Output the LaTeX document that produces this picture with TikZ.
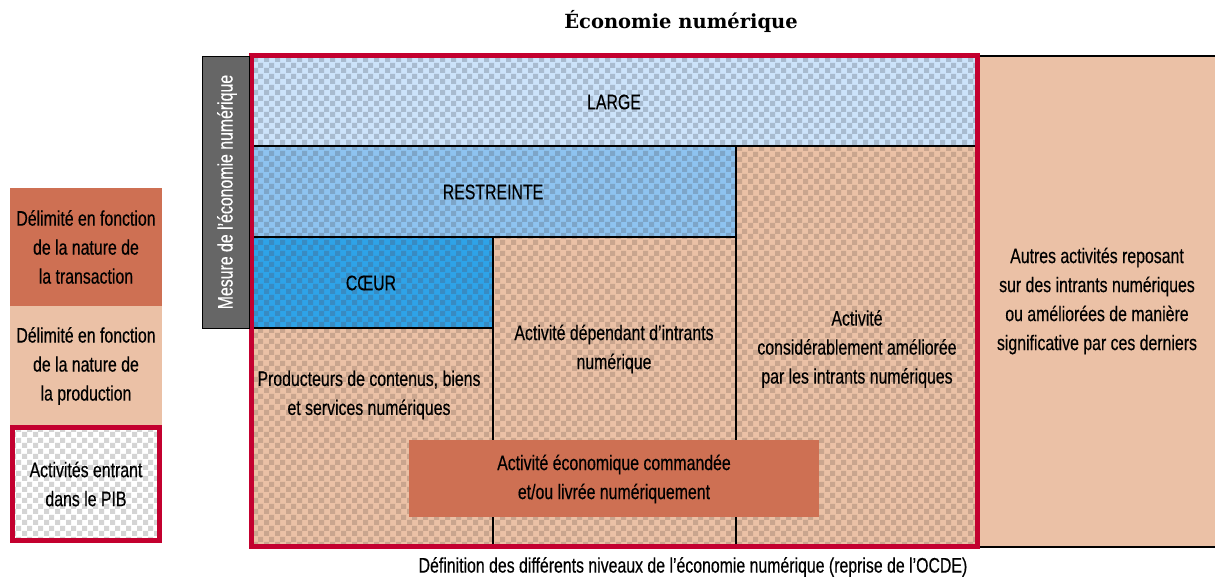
\documentclass[tikz,border=0pt]{standalone}
\usepackage{fontspec}
\setmainfont[FakeStretch=0.755,FakeBold=0.4]{Liberation Sans}
\newfontfamily\titlefont{DejaVu Serif}
\usetikzlibrary{patterns}
\pgfdeclarepatternformonly{chk}{\pgfqpoint{0pt}{0pt}}{\pgfqpoint{11pt}{11pt}}{\pgfqpoint{11pt}{11pt}}{%
  \pgfpathrectangle{\pgfqpoint{0pt}{0pt}}{\pgfqpoint{5.5pt}{5.5pt}}%
  \pgfpathrectangle{\pgfqpoint{5.5pt}{5.5pt}}{\pgfqpoint{5.5pt}{5.5pt}}%
  \pgfusepath{fill}}
\definecolor{redframe}{HTML}{C3002F}
\definecolor{beige}{HTML}{EBC1A6}
\definecolor{beigedk}{HTML}{C9A58E}
\definecolor{largebg}{HTML}{CCE3FA}
\definecolor{largedk}{HTML}{A8BBCF}
\definecolor{restbg}{HTML}{8EC3F0}
\definecolor{restdk}{HTML}{7DA5C8}
\definecolor{coeurbg}{HTML}{2EA3E8}
\definecolor{coeurdk}{HTML}{388BC2}
\definecolor{orangebox}{HTML}{CE7053}
\definecolor{greybox}{HTML}{666666}
\definecolor{legbg}{HTML}{FFFFFF}
\definecolor{legdk}{HTML}{D4D4D4}
\tikzset{
  chk/.style 2 args={preaction={fill=#1}, pattern=chk, pattern color=#2},
  txt/.style={align=center, inner sep=0pt, font=\fontsize{21}{29}\selectfont, text=black},
  thin line/.style={draw=black, line width=1.2pt},
}
\begin{document}
\begin{tikzpicture}[x=1pt,y=-1pt]
\useasboundingbox (0,0) rectangle (1215,579);
% right box
\fill[beige] (977,56) rectangle (1215,547);
\draw[thin line] (977,56) -- (1215,56);
\draw[thin line] (977,547) -- (1215,547);
% large
\path[chk={largebg}{largedk}] (251,55.5) rectangle (977,146);
% beige checker
\path[chk={beige}{beigedk}] (251,146) rectangle (977,546);
% restreinte
\path[chk={restbg}{restdk}] (251,146) rectangle (736,237);
% coeur
\path[chk={coeurbg}{coeurdk}] (251,237) rectangle (493,328);
% black lines
\draw[thin line] (251,146) -- (977,146);
\draw[thin line] (251,237) -- (736,237);
\draw[thin line] (736,146) -- (736,546);
\draw[thin line] (493,237) -- (493,546);
\draw[thin line] (251,328) -- (493,328);
% orange box
\fill[orangebox] (409,440) rectangle (819,517);
% red frame
\draw[redframe, line width=5pt] (251,55.5) rectangle (977,546);
% grey box
\draw[fill=greybox, draw=black, line width=1pt] (202,56) rectangle (249,328);
\node[txt, text=white, rotate=90] (mesure) at (227,192) {Mesure de l’économie numérique};
% texts
\node[font=\titlefont\bfseries\fontsize{19.5}{22}\selectfont, inner sep=0pt] (title) at (681,21) {Économie numérique};
\node[txt] (large) at (614,102) {LARGE};
\node[txt] (restreinte) at (493,192) {RESTREINTE};
\node[txt] (coeur) at (371,283) {CŒUR};
\node[txt] (dependant) at (614,349) {Activité dépendant d’intrants\\numérique};
\node[txt] (ameliore) at (857,349) {Activité\\considérablement améliorée\\par les intrants numériques};
\node[txt] (producteurs) at (369,395) {Producteurs de contenus, biens\\et services numériques};
\node[txt] (commande) at (614,479) {Activité économique commandée\\et/ou livrée numériquement};
\node[txt] (autres) at (1097,301) {Autres activités reposant\\sur des intrants numériques\\ou améliorées de manière\\significative par ces derniers};
\node[txt] (caption) at (693,567) {Définition des différents niveaux de l’économie numérique (reprise de l’OCDE)};
% legend
\fill[orangebox] (10,188) rectangle (162,306);
\fill[beige] (10,306) rectangle (162,425);
\path[chk={legbg}{legdk}] (12.5,427.5) rectangle (159.5,540.5);
\draw[redframe, line width=5pt] (12.5,427.5) rectangle (159.5,540.5);
\node[txt] (leg1) at (86,247) {Délimité en fonction\\de la nature de\\la transaction};
\node[txt] (leg2) at (86,366) {Délimité en fonction\\de la nature de\\la production};
\node[txt] (leg3) at (86,484) {Activités entrant\\dans le PIB};
\end{tikzpicture}
\end{document}
